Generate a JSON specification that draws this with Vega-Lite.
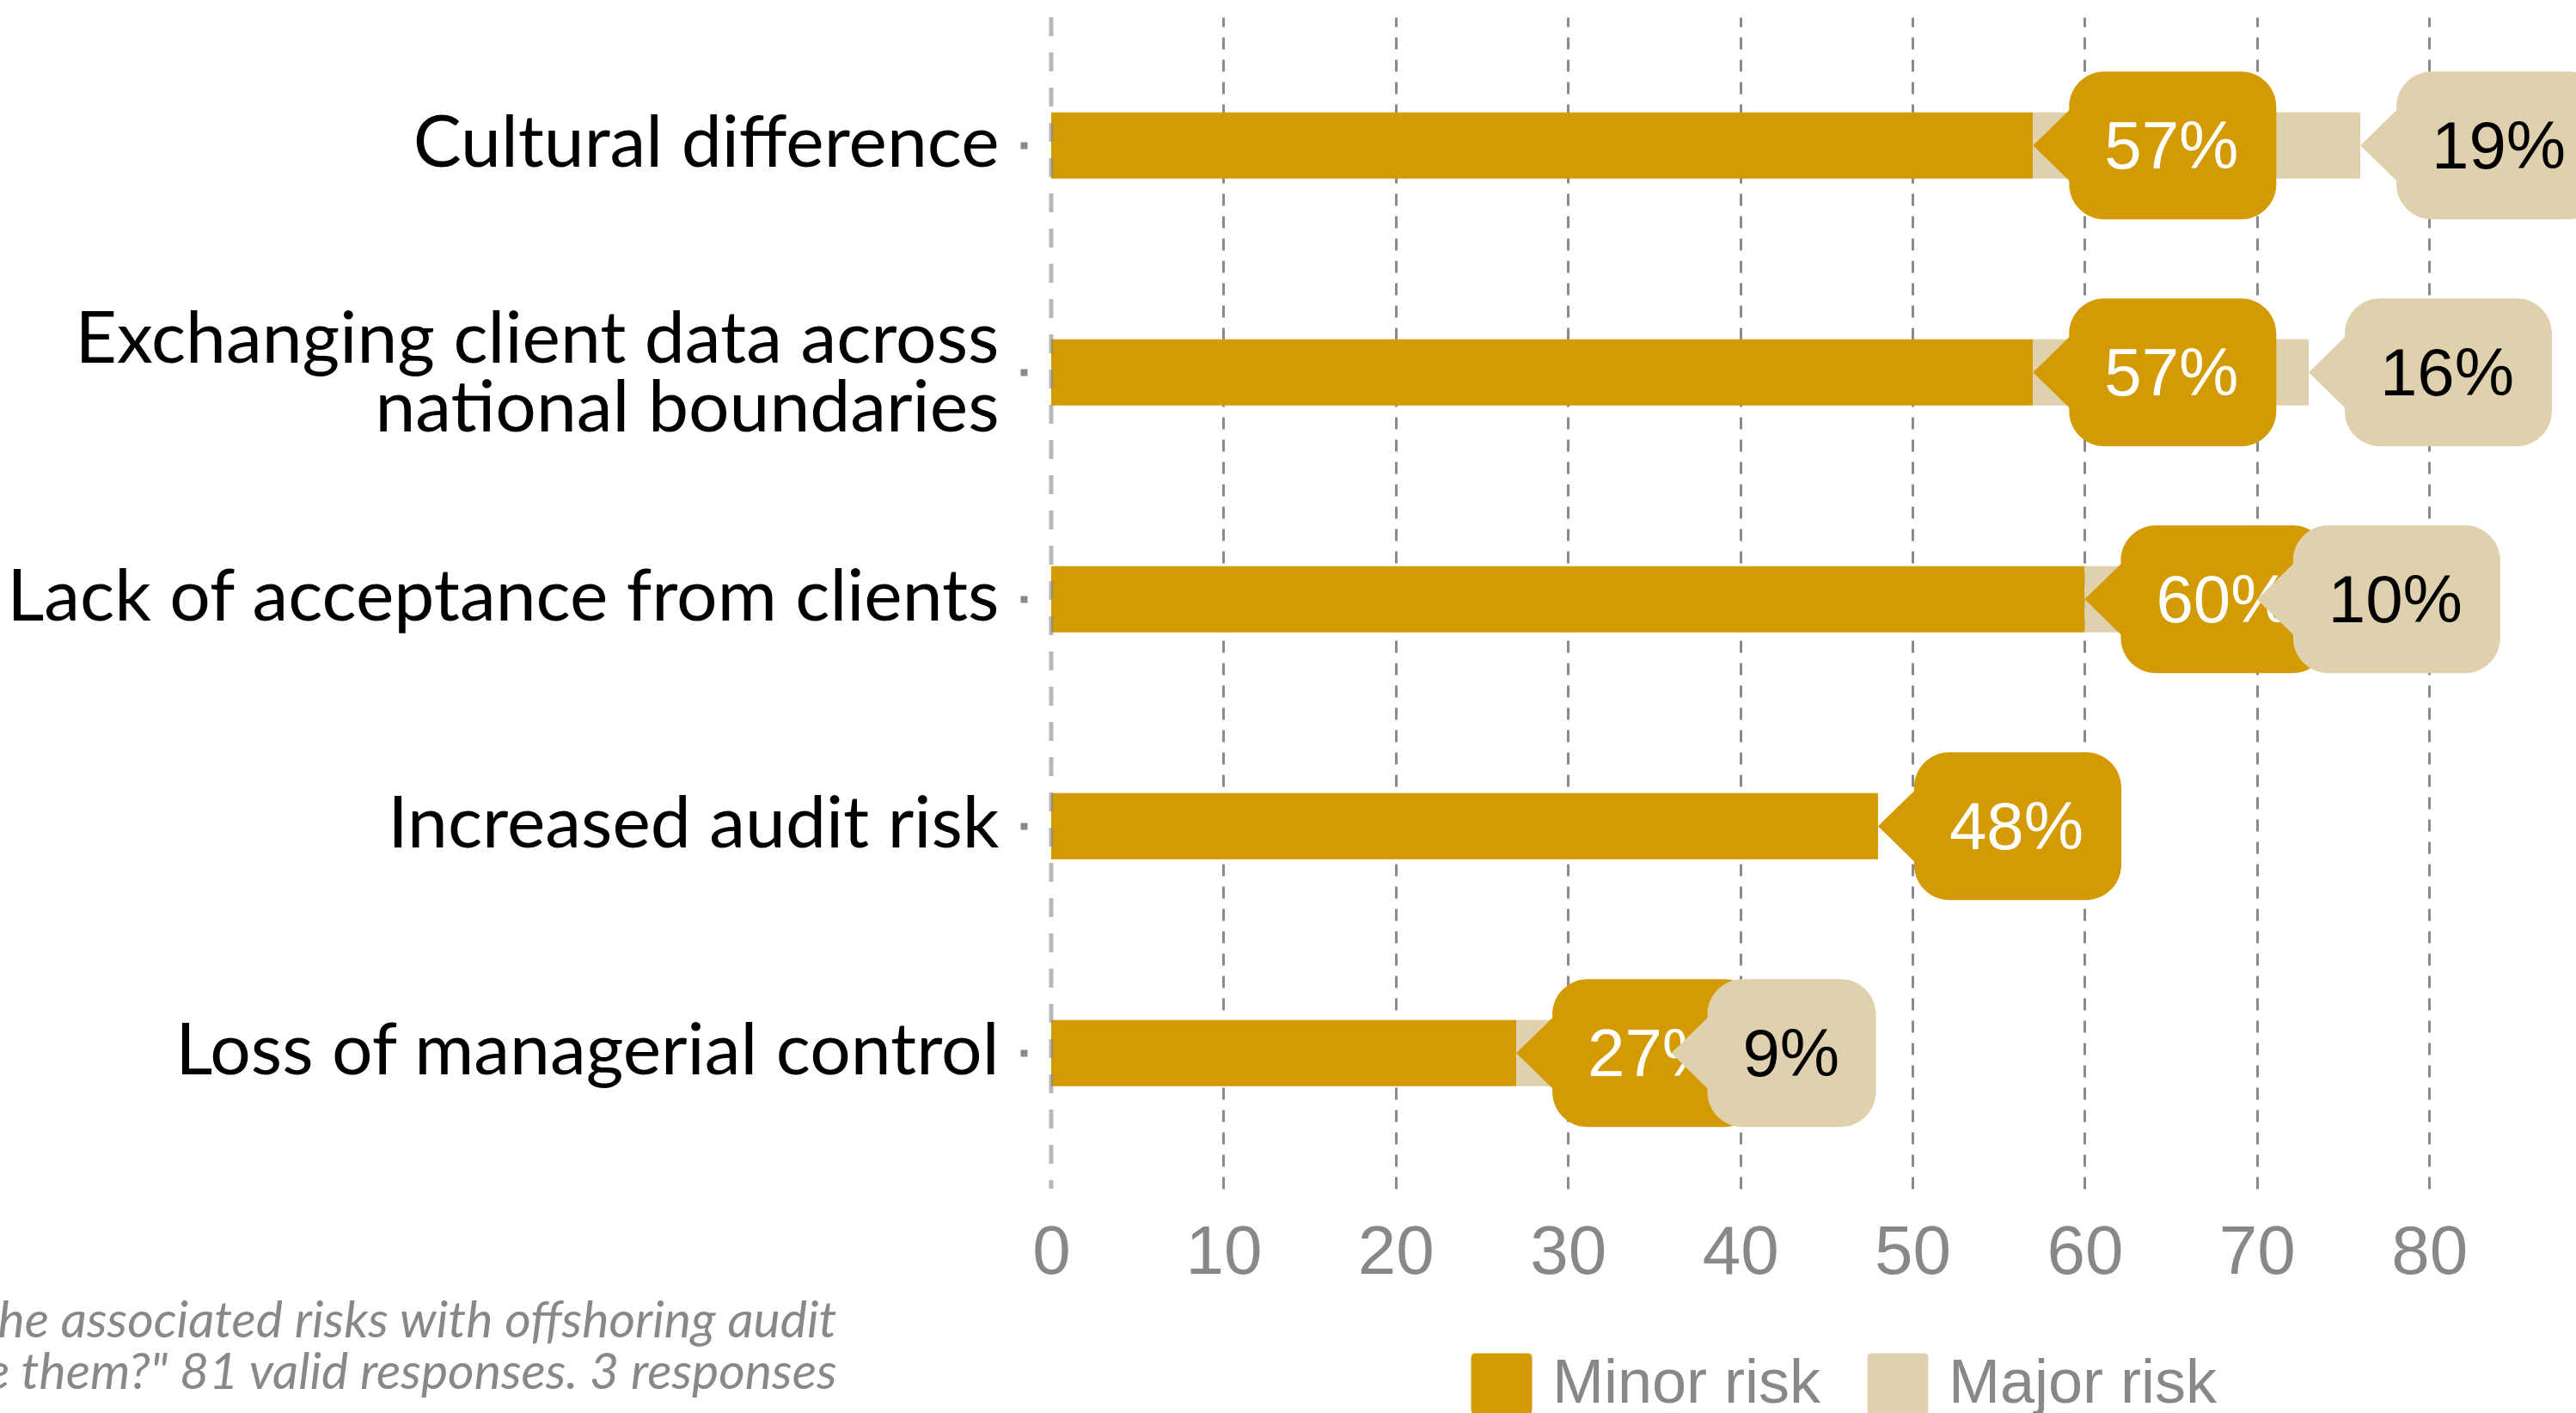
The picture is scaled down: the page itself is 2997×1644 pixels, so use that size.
{
  "$schema": "https://vega.github.io/schema/vega-lite/v6.json",
  "autosize": "none",
  "padding": {"left": 1195, "top": 20, "right": 0, "bottom": 261},
  "width": 1802,
  "height": 1363,
  "background": "white",
  "config": {"view": {"stroke": null}},
  "data": {"values": [
    {"cat": "Cultural difference", "type": "Minor risk", "value": 57, "label": "57%"},
    {"cat": "Cultural difference", "type": "Major risk", "value": 19, "label": "19%"},
    {"cat": "Exchanging client data across national boundaries", "type": "Minor risk", "value": 57, "label": "57%"},
    {"cat": "Exchanging client data across national boundaries", "type": "Major risk", "value": 16, "label": "16%"},
    {"cat": "Lack of acceptance from clients", "type": "Minor risk", "value": 60, "label": "60%"},
    {"cat": "Lack of acceptance from clients", "type": "Major risk", "value": 10, "label": "10%"},
    {"cat": "Increased audit risk", "type": "Minor risk", "value": 48, "label": "48%"},
    {"cat": "Loss of managerial control", "type": "Minor risk", "value": 27, "label": "27%"},
    {"cat": "Loss of managerial control", "type": "Major risk", "value": 9, "label": "9%"}
  ]},
  "encoding": {
    "y": {
      "field": "cat", "type": "nominal",
      "sort": ["Cultural difference", "Exchanging client data across national boundaries", "Lack of acceptance from clients", "Increased audit risk", "Loss of managerial control"],
      "scale": {"paddingInner": 0, "paddingOuter": 0.0814, "align": 0.4},
      "axis": {
        "title": null, "domain": false, "grid": false,
        "ticks": true, "tickColor": "#8a8a8a", "tickSize": 8, "tickWidth": 8,
        "labelFont": "Lato", "labelFontSize": 84, "labelColor": "#000000",
        "labelPadding": 25, "labelLimit": 3000, "labelLineHeight": 80,
        "labelOffset": {"condition": {"test": "datum.value === 'Exchanging client data across national boundaries'", "value": -36}, "value": 0},
        "labelExpr": "datum.label === 'Exchanging client data across national boundaries' ? ['Exchanging client data across', 'national boundaries'] : datum.label"
      }
    }
  },
  "layer": [
    {
      "mark": {"type": "bar", "size": 77},
      "encoding": {
        "x": {
          "field": "value", "type": "quantitative", "stack": "zero",
          "scale": {"domain": [-1.397, 88.52], "nice": false, "zero": false},
          "axis": {
            "values": [0, 10, 20, 30, 40, 50, 60, 70, 80],
            "domain": false, "ticks": false, "tickSize": 0,
            "labelFont": "Liberation Sans", "labelFontSize": 80, "labelColor": "#888888",
            "labelPadding": 35,
            "grid": true, "gridColor": "#8a8a8a", "gridWidth": 3, "gridDash": [14, 12],
            "gridOpacity": {"condition": {"test": "datum.value === 0", "value": 0}, "value": 1},
            "title": ["the associated risks with offshoring audit", "manage them?\" 81 valid responses. 3 responses"],
            "titleFont": "Lato", "titleFontStyle": "italic", "titleFontWeight": "normal",
            "titleFontSize": 59, "titleColor": "#888888",
            "titleAlign": "right", "titleBaseline": "alphabetic", "titleAngle": 0,
            "titleX": -222, "titleY": 172, "titleLineHeight": 60, "titleLimit": 5000
          }
        },
        "color": {
          "field": "type", "type": "nominal",
          "scale": {"domain": ["Minor risk", "Major risk"], "range": ["#D49A04", "#DFD1AE"]},
          "legend": {
            "orient": "none", "legendX": 516, "legendY": 1554, "direction": "horizontal",
            "title": null, "padding": 0,
            "symbolType": "M-0.85,-1 L0.85,-1 Q1,-1 1,-0.85 L1,0.85 Q1,1 0.85,1 L-0.85,1 Q-1,1 -1,0.85 L-1,-0.85 Q-1,-1 -0.85,-1 Z",
            "symbolSize": 5041, "symbolStrokeWidth": 0, "symbolOpacity": 1,
            "labelFont": "Liberation Sans", "labelFontSize": 72, "labelColor": "#888888",
            "labelOffset": 23, "columnPadding": 53, "labelLimit": 1000
          }
        },
        "order": {"field": "type", "sort": "descending"}
      }
    },
    {
      "transform": [{"aggregate": [{"op": "count", "as": "n"}]}],
      "mark": {"type": "rule", "color": "#888888", "opacity": 0.6, "strokeWidth": 5, "strokeDash": [22, 19]},
      "encoding": {"x": {"datum": 0, "type": "quantitative"}, "y": null}
    },
    {
      "transform": [
        {"stack": "value", "groupby": ["cat"], "sort": [{"field": "type", "order": "descending"}], "as": ["x0", "x1"]},
        {"filter": "datum.type === 'Minor risk'"}
      ],
      "mark": {"type": "point", "filled": true, "opacity": 1, "size": 40000, "strokeWidth": 0, "color": "#D49A04"},
      "encoding": {
        "x": {"field": "x1", "type": "quantitative"},
        "shape": {
          "condition": {"test": "datum.value < 10", "value": "M0,0 L0.42,-0.41 L0.42,-0.45 C0.42,-0.676 0.604,-0.86 0.83,-0.86 L1.97,-0.86 C2.196,-0.86 2.38,-0.676 2.38,-0.45 L2.38,0.45 C2.38,0.676 2.196,0.86 1.97,0.86 L0.83,0.86 C0.604,0.86 0.42,0.676 0.42,0.45 L0.42,0.41 Z"},
          "value": "M0,0 L0.42,-0.41 L0.42,-0.45 C0.42,-0.676 0.604,-0.86 0.83,-0.86 L2.42,-0.86 C2.646,-0.86 2.83,-0.676 2.83,-0.45 L2.83,0.45 C2.83,0.676 2.646,0.86 2.42,0.86 L0.83,0.86 C0.604,0.86 0.42,0.676 0.42,0.45 L0.42,0.41 Z"
        }
      }
    },
    {
      "transform": [
        {"stack": "value", "groupby": ["cat"], "sort": [{"field": "type", "order": "descending"}], "as": ["x0", "x1"]},
        {"filter": "datum.type === 'Minor risk'"}
      ],
      "mark": {"type": "text", "align": "left", "baseline": "middle", "dx": 83, "dy": 4, "font": "Liberation Sans", "fontSize": 78, "color": "#ffffff"},
      "encoding": {
        "x": {"field": "x1", "type": "quantitative"},
        "text": {"field": "label"}
      }
    },
    {
      "transform": [
        {"stack": "value", "groupby": ["cat"], "sort": [{"field": "type", "order": "descending"}], "as": ["x0", "x1"]},
        {"filter": "datum.type === 'Major risk'"}
      ],
      "mark": {"type": "point", "filled": true, "opacity": 1, "size": 40000, "strokeWidth": 0, "color": "#DFD1AE"},
      "encoding": {
        "x": {"field": "x1", "type": "quantitative"},
        "shape": {
          "condition": {"test": "datum.value < 10", "value": "M0,0 L0.42,-0.41 L0.42,-0.45 C0.42,-0.676 0.604,-0.86 0.83,-0.86 L1.97,-0.86 C2.196,-0.86 2.38,-0.676 2.38,-0.45 L2.38,0.45 C2.38,0.676 2.196,0.86 1.97,0.86 L0.83,0.86 C0.604,0.86 0.42,0.676 0.42,0.45 L0.42,0.41 Z"},
          "value": "M0,0 L0.42,-0.41 L0.42,-0.45 C0.42,-0.676 0.604,-0.86 0.83,-0.86 L2.42,-0.86 C2.646,-0.86 2.83,-0.676 2.83,-0.45 L2.83,0.45 C2.83,0.676 2.646,0.86 2.42,0.86 L0.83,0.86 C0.604,0.86 0.42,0.676 0.42,0.45 L0.42,0.41 Z"
        }
      }
    },
    {
      "transform": [
        {"stack": "value", "groupby": ["cat"], "sort": [{"field": "type", "order": "descending"}], "as": ["x0", "x1"]},
        {"filter": "datum.type === 'Major risk'"}
      ],
      "mark": {"type": "text", "align": "left", "baseline": "middle", "dx": 83, "dy": 4, "font": "Liberation Sans", "fontSize": 78, "color": "#000000"},
      "encoding": {
        "x": {"field": "x1", "type": "quantitative"},
        "text": {"field": "label"}
      }
    }
  ]
}
